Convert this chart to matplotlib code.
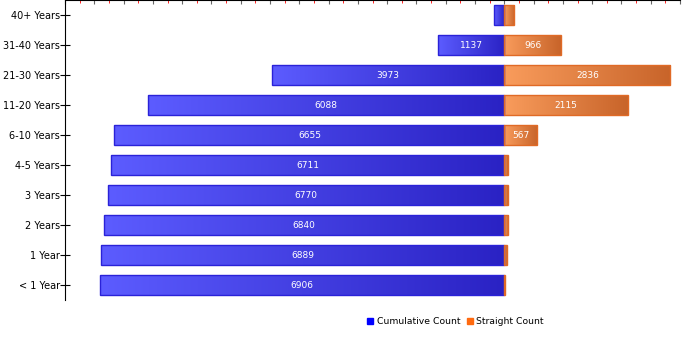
import numpy as np
import matplotlib
matplotlib.use('Agg')
import matplotlib.pyplot as plt
from matplotlib.colors import LinearSegmentedColormap
from matplotlib.lines import Line2D

categories = ['< 1 Year', '1 Year', '2 Years', '3 Years', '4-5 Years',
              '6-10 Years', '11-20 Years', '21-30 Years', '31-40 Years', '40+ Years']
cumulative = [6906, 6889, 6840, 6770, 6711, 6655, 6088, 3973, 1137, 171]
straight = [17, 49, 70, 59, 56, 567, 2115, 2836, 966, 171]

blue_cmap = LinearSegmentedColormap.from_list('b', ['#5c5cff', '#2a22c4'])
orange_cmap = LinearSegmentedColormap.from_list('o', ['#f99c5c', '#c8642a'])

fig = plt.figure(figsize=(7, 3.5), dpi=100)
ax = fig.add_axes([65 / 700, 50 / 350, 615 / 700, 300 / 350])

grad = np.linspace(0, 1, 256).reshape(1, -1)
h = 0.68


def gradient_bar(x0, x1, y, cmap, edge):
    rect = ax.barh(y, x1 - x0, left=x0, height=h, color='none',
                   edgecolor=edge, linewidth=1.0, zorder=3)[0]
    im = ax.imshow(grad, cmap=cmap, aspect='auto', zorder=2,
                   extent=[x0, x1, y - h / 2, y + h / 2])
    im.set_clip_path(rect)


for i in range(len(categories)):
    gradient_bar(-cumulative[i], 0, i, blue_cmap, '#2a22d8')
    gradient_bar(0, straight[i], i, orange_cmap, '#e06a26')
    if cumulative[i] > 400:
        ax.text(-cumulative[i] / 2, i, str(cumulative[i]), color='white',
                fontsize=6.5, ha='center', va='center', zorder=4)
    if straight[i] > 400:
        ax.text(straight[i] / 2, i, str(straight[i]), color='white',
                fontsize=6.5, ha='center', va='center', zorder=4)

ax.set_xlim(-7500, 3000)
ax.set_ylim(-0.5, 9.5)
ax.set_yticks(range(len(categories)))
ax.set_yticklabels(categories, fontsize=7.0)
ax.tick_params(axis='y', direction='inout', length=7, width=0.8, pad=0)

ax.xaxis.tick_top()
ax.set_xticks(np.arange(-7500, 3001, 500))
ax.set_xticks(np.arange(-7250, 3000, 500), minor=True)
ax.tick_params(axis='x', which='major', direction='in', length=3,
               color='#666666', labeltop=False)
ax.tick_params(axis='x', which='minor', direction='in', length=2,
               color='red', labeltop=False)
ax.spines['right'].set_visible(False)
ax.spines['bottom'].set_visible(False)

handles = [Line2D([], [], marker='s', color='none', markerfacecolor='#0000ff',
                  markeredgecolor='#0000ff', markersize=5, label='Cumulative Count'),
           Line2D([], [], marker='s', color='none', markerfacecolor='#ff6a10',
                  markeredgecolor='#ff6a10', markersize=5, label='Straight Count')]
fig.legend(handles=handles, loc='center', bbox_to_anchor=(455 / 700, 1 - 322 / 350),
           ncol=2, frameon=False, fontsize=6.7, handlelength=0.8,
           handletextpad=0.3, columnspacing=0.6)

fig.savefig('out.png', dpi=100)
